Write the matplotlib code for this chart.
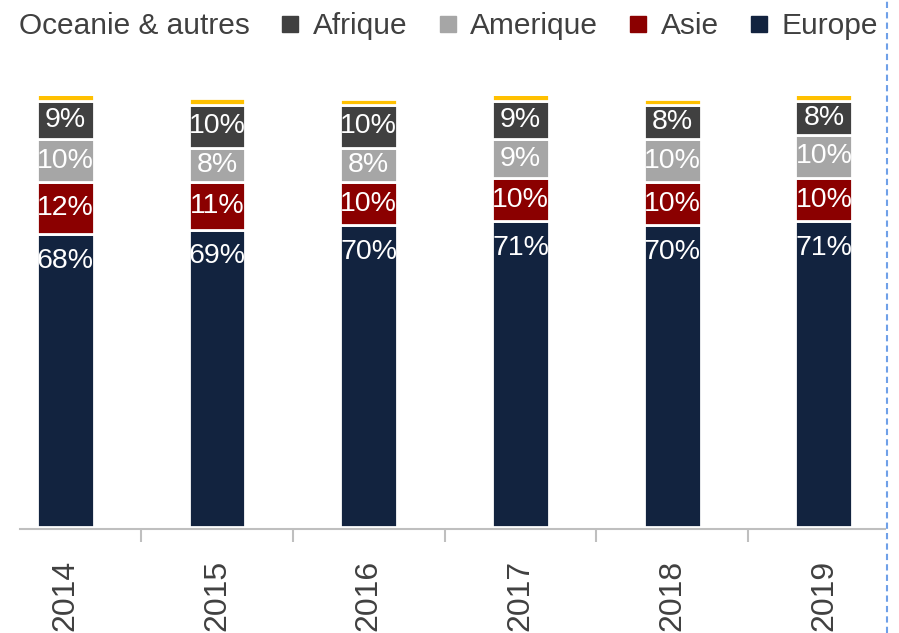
import numpy as np
import matplotlib.pyplot as plt
from matplotlib.lines import Line2D

# data (share of total, %)
years = ['2014', '2015', '2016', '2017', '2018', '2019']
europe = [68, 69, 70, 71, 70, 71]
asie = [12, 11, 10, 10, 10, 10]
amerique = [10, 8, 8, 9, 10, 10]
afrique = [9, 10, 10, 9, 8, 8]
oceanie = [1.9, 1.6, 1.4, 1.4, 1.4, 1.9]

series = [('Europe', europe, '#12233f'),
          ('Asie', asie, '#8b0000'),
          ('Amerique', amerique, '#a6a6a6'),
          ('Afrique', afrique, '#404040'),
          ('Oceanie & autres', oceanie, '#ffc000')]

plt.rcParams['font.family'] = ['Liberation Sans', 'DejaVu Sans']

fig = plt.figure(figsize=(8.99, 6.33), dpi=100)
ax = fig.add_axes([0.022, 0.168, 0.962, 0.68])

x = np.arange(len(years))
bottom = np.zeros(len(years))
for name, vals, col in series:
    vals = np.array(vals, dtype=float)
    ax.bar(x, vals, 0.375, bottom=bottom, color=col, edgecolor='white', linewidth=2.0)
    if name != 'Oceanie & autres':
        for i in range(len(x)):
            if name == 'Europe':
                yy = bottom[i] + vals[i] - 6.2
            else:
                yy = bottom[i] + vals[i] / 2
            ax.text(x[i], yy, '%d%%' % round(vals[i]), ha='center', va='center',
                    color='white', fontsize=20.5, clip_on=False)
    bottom += vals

ax.set_xlim(-0.3, 5.4)
ax.set_ylim(0, 100)
ax.set_yticks([])
for s in ['top', 'right', 'left']:
    ax.spines[s].set_visible(False)
ax.spines['bottom'].set_color('#bfbfbf')
ax.spines['bottom'].set_linewidth(1.5)
ax.spines['bottom'].set_position(('outward', 2))

ax.set_xticks(x)
ax.set_xticklabels(years, rotation=90, fontsize=23, color='#404040')
ax.tick_params(axis='x', which='major', length=0, pad=22)
ax.set_xticks(x[:-1] + 0.5, minor=True)
ax.tick_params(axis='x', which='minor', length=9, width=1.5, color='#bfbfbf', direction='out')

# legend (first entry has no visible marker in the source)
handles = []
labels = []
for name, vals, col in series[::-1]:
    mc = 'none' if name == 'Oceanie & autres' else col
    handles.append(Line2D([], [], marker='s', linestyle='none', markersize=11,
                          markerfacecolor=mc, markeredgecolor=mc))
    labels.append(name)
fig.legend(handles, labels, loc='upper left', bbox_to_anchor=(-0.017, 0.985), ncol=5,
           frameon=False, fontsize=21.5, labelcolor='#404040', handlelength=0.6,
           handletextpad=0.45, columnspacing=1.05, borderpad=0.1, borderaxespad=0)

# dashed guide line on the right edge
fig.add_artist(Line2D([0.987, 0.987], [0, 1], transform=fig.transFigure,
                      color='#6fa0e8', linestyle=(0, (3, 2)), linewidth=1.5))

fig.savefig('out.png', dpi=100)
